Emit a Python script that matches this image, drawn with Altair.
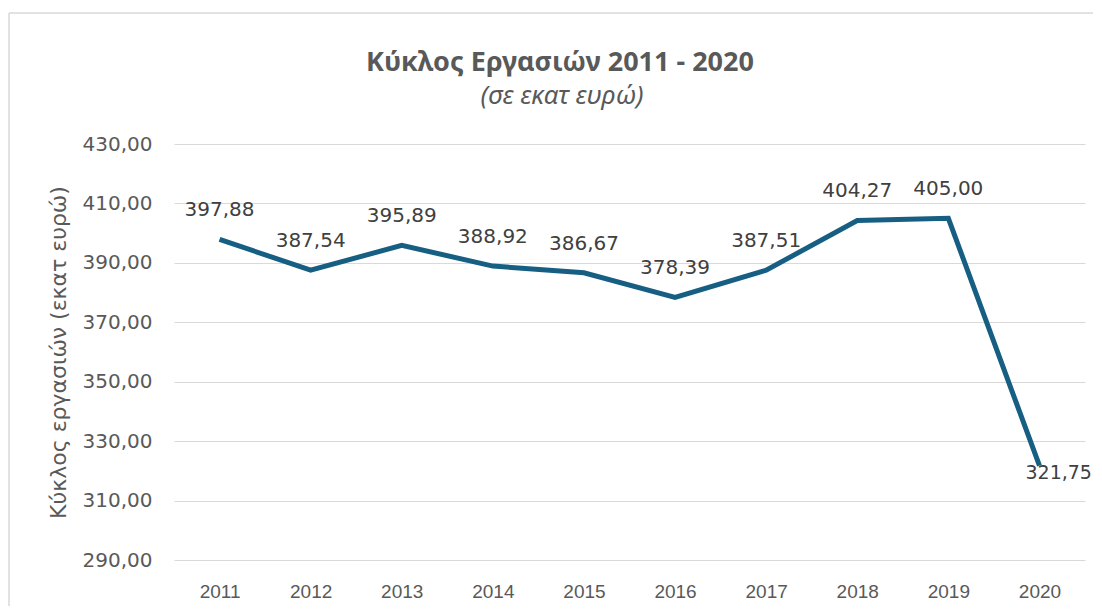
import altair as alt
import pandas as pd

years = ["2011", "2012", "2013", "2014", "2015", "2016", "2017", "2018", "2019", "2020"]
turnover = [397.88, 387.54, 395.89, 388.92, 386.67, 378.39, 387.51, 404.27, 405.00, 321.75]
y_ticks = [290, 310, 330, 350, 370, 390, 410, 430]
title_text = "Κύκλος Εργασιών 2011  - 2020"
subtitle_text = "(σε εκατ ευρώ)"

df = pd.DataFrame({"year": years, "value": turnover})

LINE = "#165F83"
GRID = "#D9D9D9"
TXT = "#595959"
LBL = "#404040"
FONT = "DejaVu Sans"

x_enc = alt.X("year:O", title=None, sort=years,
              scale=alt.Scale(type="point", padding=0.5),
              axis=alt.Axis(labelAngle=0, labelFont="Liberation Sans", labelFontSize=19,
                            labelColor=TXT, labelPadding=22, ticks=False, domain=False, grid=False))
y_enc = alt.Y("value:Q", title="Κύκλος εργασιών (εκατ ευρώ)",
              scale=alt.Scale(domain=[290, 430], nice=False, zero=False),
              axis=alt.Axis(values=y_ticks, labelExpr="replace(format(datum.value, '.2f'), '.', ',')",
                            labelFont=FONT, labelFontSize=20, labelColor=TXT, labelPadding=22,
                            ticks=False, domain=False, grid=True, gridColor=GRID, gridWidth=1.2,
                            titleFont=FONT, titleFontSize=22, titleFontWeight="normal",
                            titleColor=TXT, titlePadding=12))

base = alt.Chart(df).encode(x=x_enc, y=y_enc)
one = alt.Chart(df).transform_aggregate(n="count()")

frame_top = one.mark_rule(color=GRID, strokeWidth=1.5, clip=False).encode(
    x=alt.value(-165), x2=alt.value(1000), y=alt.value(-131))
frame_left = one.mark_rule(color=GRID, strokeWidth=1.5, clip=False).encode(
    x=alt.value(-165), y=alt.value(-131), y2=alt.value(700))

title = one.mark_text(
    font="Noto Sans", fontSize=27, fontWeight="bold", color=TXT, align="center",
    baseline="alphabetic").encode(x=alt.value(386), y=alt.value(-73), text=alt.value(title_text))
subtitle = one.mark_text(
    font="Noto Sans", fontSize=26, fontStyle="italic", color=TXT, align="center",
    baseline="alphabetic").encode(x=alt.value(388), y=alt.value(-40), text=alt.value(subtitle_text))

line = base.mark_line(color=LINE, strokeWidth=5, strokeJoin="miter")

label_expr = "replace(format(datum.value, '.2f'), '.', ',')"
labels = base.transform_filter(alt.datum.year != "2020").transform_calculate(
    lbl=label_expr).mark_text(font=FONT, fontSize=20, color=LBL, baseline="bottom", dy=-19).encode(
    text="lbl:N")
last_label = base.transform_filter(alt.datum.year == "2020").transform_calculate(
    lbl=label_expr).mark_text(font=FONT, fontSize=19, color=LBL, align="left", baseline="middle",
                              dx=-14, dy=7).encode(text="lbl:N")

chart = alt.layer(frame_top, frame_left, title, subtitle, line, labels, last_label).properties(
    width=911, height=416,
    autosize=alt.AutoSizeParams(type="none"),
    padding={"left": 166, "top": 136, "right": 8, "bottom": 46},
).configure_view(stroke=None)

chart.save("out.html", embed_options={"renderer": "svg", "actions": False})
